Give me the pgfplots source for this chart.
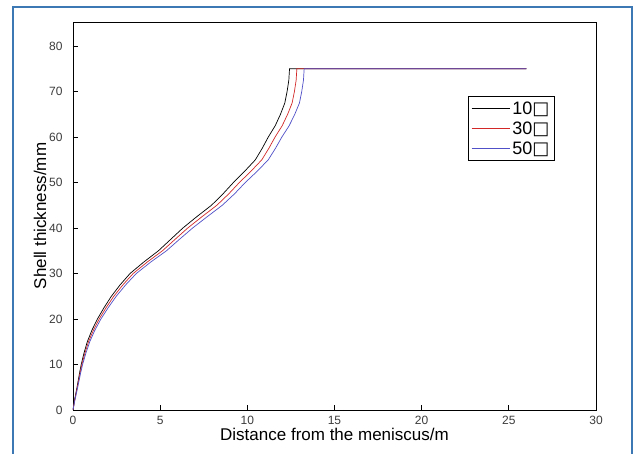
\documentclass[border=0pt]{standalone}
\usepackage{fontspec}
\setmainfont{Liberation Sans}
\newfontfamily\symfont{DejaVu Sans}
\usepackage{pgfplots}
\pgfplotsset{compat=1.18}
\definecolor{framebl}{RGB}{60,120,180}
\definecolor{cred}{RGB}{210,40,40}
\definecolor{cblue}{RGB}{80,80,200}
\definecolor{ticktxt}{RGB}{60,60,60}

\begin{document}
\begin{tikzpicture}
\useasboundingbox (-73pt,-44pt) rectangle (565pt,410pt);
\fill[white] (-73pt,-44pt) rectangle (565pt,410pt);
\draw[framebl, line width=1.2pt] (-60pt,-60pt) rectangle (559pt,403pt);
\begin{axis}[
    at={(0,0)}, anchor=south west,
    scale only axis, width=523pt, height=388pt,
    xmin=0, xmax=30, ymin=0, ymax=85.3,
    xtick={0,5,...,30}, ytick={0,10,...,80},
    tick align=inside, tick pos=left,
    major tick length=5pt,
    axis line style={line width=0.9pt},
    tick style={line width=0.9pt, black},
    ticklabel style={font=\fontsize{12}{14}\selectfont, text=ticktxt},
    xticklabel style={yshift=-3pt},
    yticklabel style={xshift=-7pt},
    /pgf/number format/assume math mode=true,
    xlabel={Distance from the meniscus/m},
    ylabel={Shell thickness/mm},
    label style={font=\fontsize{17}{20}\selectfont},
    xlabel style={yshift=4pt},
    ylabel style={yshift=-4pt},
    legend style={at={(axis cs:22.65,69)}, anchor=north west,
        draw=black, line width=0.9pt, font=\fontsize{18}{21}\selectfont,
        row sep=2pt, inner sep=3pt},
    legend cell align=left,
    legend image code/.code={\draw[#1, line width=0.7pt] (0cm,0cm) -- (1.35cm,0cm);},
]
\addplot[black, line width=0.7pt] coordinates {
(0,0) (0.08,2) (0.23,5) (0.37,8) (0.47,10) (0.63,12.5) (0.82,15) (1.08,17.5)
(1.4,20) (1.78,22.5) (2.2,25) (2.7,27.5) (3.27,30) (4.05,32.5) (4.9,35)
(5.6,37.5) (6.3,40) (7.1,42.5) (7.94,45) (8.6,47.5) (9.2,50) (9.85,52.5)
(10.46,55) (10.85,57.5) (11.2,60) (11.6,62.5) (11.9,65) (12.15,67.5)
(12.28,70) (12.38,72.5) (12.42,75) (26,75)};
\addlegendentry{10{\symfont □}}
\addplot[cred, line width=0.7pt] coordinates {
(0,0) (0.09,2) (0.25,5) (0.40,8) (0.51,10) (0.685,12.5) (0.89,15) (1.165,17.5)
(1.5,20) (1.9,22.5) (2.34,25) (2.86,27.5) (3.45,30) (4.25,32.5) (5.13,35)
(5.85,37.5) (6.58,40) (7.4,42.5) (8.25,45) (8.93,47.5) (9.54,50) (10.21,52.5)
(10.83,55) (11.23,57.5) (11.59,60) (12.0,62.5) (12.31,65) (12.57,67.5)
(12.7,70) (12.8,72.5) (12.84,75) (26,75)};
\addlegendentry{30{\symfont □}}
\addplot[cblue, line width=0.7pt] coordinates {
(0,0) (0.10,2) (0.27,5) (0.43,8) (0.55,10) (0.74,12.5) (0.96,15) (1.25,17.5)
(1.6,20) (2.02,22.5) (2.48,25) (3.02,27.5) (3.63,30) (4.45,32.5) (5.36,35)
(6.1,37.5) (6.86,40) (7.7,42.5) (8.56,45) (9.26,47.5) (9.88,50) (10.57,52.5)
(11.2,55) (11.61,57.5) (11.98,60) (12.4,62.5) (12.72,65) (12.99,67.5)
(13.12,70) (13.22,72.5) (13.26,75) (26,75)};
\addlegendentry{50{\symfont □}}
\end{axis}
\end{tikzpicture}
\end{document}
